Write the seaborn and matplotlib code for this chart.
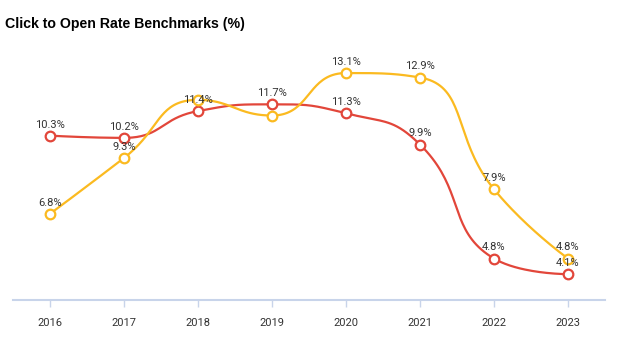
import numpy as np
import pandas as pd
import matplotlib
matplotlib.use("Agg")
import matplotlib.pyplot as plt
import seaborn as sns

years = ["2016", "2017", "2018", "2019", "2020", "2021", "2022", "2023"]
red_values = [10.3, 10.2, 11.4, 11.7, 11.3, 9.9, 4.8, 4.1]
yellow_values = [6.8, 9.3, 11.9, 11.2, 13.1, 12.9, 7.9, 4.8]
red_labels = ["10.3%", "10.2%", "11.4%", "11.7%", "11.3%", "9.9%", "4.8%", "4.1%"]
yellow_labels = ["6.8%", "9.3%", "", "", "13.1%", "12.9%", "7.9%", "4.8%"]

RED = "#E2463A"
YELLOW = "#FBBA20"

sns.set_theme(style="white")
plt.rcParams["font.family"] = ["Roboto", "DejaVu Sans"]

# pixel scale used only to shape the smoothing (x px per category, y px per %)
SX, SY = 74.0, 22.4


def smooth_curve(xs, ys, smooth=0.5, n=40):
    px = np.asarray(xs, float) * SX
    py = np.asarray(ys, float) * SY
    m = len(px)
    segs = []
    cpx0, cpy0 = px[0], py[0]
    for i in range(1, m):
        x, y = px[i], py[i]
        prevX, prevY = px[i - 1], py[i - 1]
        if i == m - 1:
            cpx1, cpy1 = x, y
            ncx, ncy = x, y
        else:
            nextX, nextY = px[i + 1], py[i + 1]
            vx, vy = nextX - prevX, nextY - prevY
            lp = np.hypot(x - prevX, y - prevY)
            ln = np.hypot(nextX - x, nextY - y)
            r = ln / (ln + lp)
            ncx = x + vx * smooth * r
            ncy = y + vy * smooth * r
            ncx = max(min(ncx, max(nextX, x)), min(nextX, x))
            ncy = max(min(ncy, max(nextY, y)), min(nextY, y))
            vx, vy = ncx - x, ncy - y
            cpx1 = x - vx * lp / ln
            cpy1 = y - vy * lp / ln
            cpx1 = max(min(cpx1, max(prevX, x)), min(prevX, x))
            cpy1 = max(min(cpy1, max(prevY, y)), min(prevY, y))
            vx, vy = x - cpx1, y - cpy1
            ncx = x + vx * ln / lp
            ncy = y + vy * ln / lp
        t = np.linspace(0, 1, n)
        bx = (1 - t) ** 3 * prevX + 3 * (1 - t) ** 2 * t * cpx0 + 3 * (1 - t) * t ** 2 * cpx1 + t ** 3 * x
        by = (1 - t) ** 3 * prevY + 3 * (1 - t) ** 2 * t * cpy0 + 3 * (1 - t) * t ** 2 * cpy1 + t ** 3 * y
        seg = np.column_stack([bx, by])
        segs.append(seg if i == 1 else seg[1:])
        cpx0, cpy0 = ncx, ncy
    out = np.vstack(segs)
    return out[:, 0] / SX, out[:, 1] / SY


fig, ax = plt.subplots(figsize=(6.18, 3.4), dpi=100)
fig.subplots_adjust(left=0.021, right=0.979, top=0.91, bottom=0.118)

x = np.arange(len(years))
for vals, color in [(red_values, RED), (yellow_values, YELLOW)]:
    cx, cy = smooth_curve(x, vals, smooth=0.5)
    df = pd.DataFrame({"x": cx, "y": cy})
    sns.lineplot(data=df, x="x", y="y", ax=ax, color=color, linewidth=1.6, sort=False,
                 estimator=None, zorder=2)

for vals, labels, color in [(red_values, red_labels, RED), (yellow_values, yellow_labels, YELLOW)]:
    pdf = pd.DataFrame({"x": x, "y": vals})
    sns.scatterplot(data=pdf, x="x", y="y", ax=ax, s=48, facecolor="white",
                    edgecolor=color, linewidth=1.6, zorder=3)
    for xi, v, lab in zip(x, vals, labels):
        if lab:
            ax.annotate(lab, (xi, v), xytext=(0, 8), textcoords="offset points",
                        ha="center", va="center", fontsize=8, color="#333333", zorder=4)

ax.set_xlim(-0.5, 7.5)
ax.set_ylim(2.95, 15.0)
ax.set_xticks(x)
ax.set_xticklabels(years, fontsize=8, color="#333333")
ax.set_yticks([])
ax.set_xlabel("")
ax.set_ylabel("")
for s in ["top", "right", "left"]:
    ax.spines[s].set_visible(False)
ax.spines["bottom"].set_color("#C8D4EA")
ax.spines["bottom"].set_linewidth(1.5)
ax.tick_params(axis="x", length=5, width=1, color="#C8D4EA", pad=8, bottom=True)

fig.text(0.008, 0.928, "Click to Open Rate Benchmarks (%)", fontsize=10.2, fontweight="bold",
         family=["Liberation Sans", "DejaVu Sans"], color="black", va="center", ha="left")

fig.savefig("out.png", dpi=100, facecolor="white")
